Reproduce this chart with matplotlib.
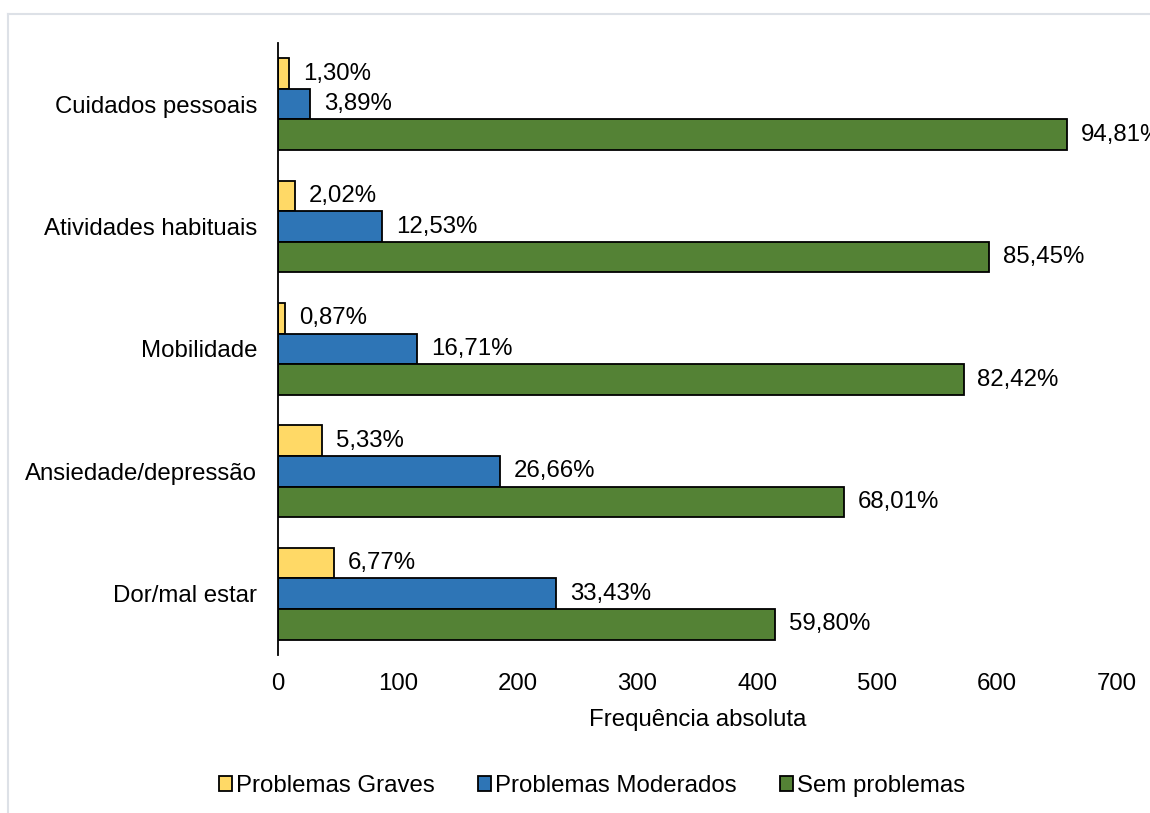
import matplotlib.pyplot as plt
from matplotlib.lines import Line2D
import numpy as np

plt.rcParams['font.family'] = ['Liberation Sans', 'DejaVu Sans']

# Dimensões (de cima para baixo) e frequências absolutas
categorias = ['Cuidados pessoais', 'Atividades habituais', 'Mobilidade',
              'Ansiedade/depressão', 'Dor/mal estar']
graves = [9, 14, 6, 37, 47]
moderados = [27, 87, 116, 185, 232]
sem_problemas = [658, 593, 572, 472, 415]

pct_graves = ['1,30%', '2,02%', '0,87%', '5,33%', '6,77%']
pct_moderados = ['3,89%', '12,53%', '16,71%', '26,66%', '33,43%']
pct_sem = ['94,81%', '85,45%', '82,42%', '68,01%', '59,80%']

series = [
    ('Problemas Graves', graves, pct_graves, '#FFD966'),
    ('Problemas Moderados', moderados, pct_moderados, '#2E75B6'),
    ('Sem problemas', sem_problemas, pct_sem, '#548235'),
]

fs = 17.3
fig = plt.figure(figsize=(11.5, 8.13), dpi=100)
ax = fig.add_axes([278 / 1150, 1 - 655 / 813, (1117 - 278) / 1150, (655 - 43) / 813])

y = np.arange(len(categorias))
h = 0.25
for k, (nome, vals, pcts, cor) in enumerate(series):
    pos = y + (k - 1) * h
    barras = ax.barh(pos, vals, height=h, color=cor, edgecolor='black',
                     linewidth=1.3, label=nome)
    for b, txt in zip(barras, pcts):
        ax.annotate(txt, (b.get_width(), b.get_y() + b.get_height() / 2),
                    xytext=(10, 0), textcoords='offset points',
                    va='center', ha='left', fontsize=fs, annotation_clip=False)

ax.set_xlim(0, 700)
ax.set_ylim(len(categorias) - 0.5, -0.5)
ax.set_yticks(y)
ax.set_yticklabels(categorias, fontsize=fs)
ax.set_xticks(range(0, 701, 100))
ax.tick_params(axis='x', length=0, pad=13, labelsize=fs)
ax.tick_params(axis='y', length=0, pad=15)
for s in ['top', 'right', 'bottom']:
    ax.spines[s].set_visible(False)
ax.spines['left'].set_linewidth(1.3)
ax.set_xlabel('Frequência absoluta', fontsize=fs, labelpad=10)

ax.legend(loc='center', bbox_to_anchor=(592 / 1150, 1 - 786 / 813),
          bbox_transform=fig.transFigure, ncol=3, frameon=False, fontsize=fs,
          handlelength=0.55, handleheight=0.55, handletextpad=0.15,
          columnspacing=1.8)

# moldura clara da área do gráfico
cor_borda = '#DDE1E7'
fig.add_artist(Line2D([7.5 / 1150, 1.0], [1 - 14 / 813, 1 - 14 / 813],
                      transform=fig.transFigure, color=cor_borda, lw=1.5))
fig.add_artist(Line2D([7.5 / 1150, 7.5 / 1150], [0.0, 1 - 14 / 813],
                      transform=fig.transFigure, color=cor_borda, lw=1.5))

fig.savefig('out.png', dpi=100)
